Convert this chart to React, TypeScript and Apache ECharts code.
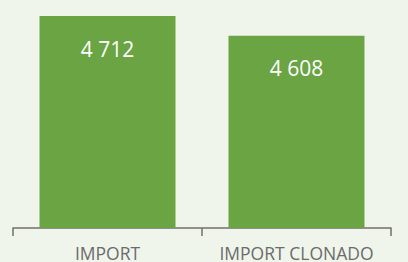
import React, { useEffect, useRef } from "react";
import * as echarts from "echarts";

const categories = ["IMPORT", "IMPORT CLONADO"];
const values = [4712, 4608];

export default function App() {
  const ref = useRef<HTMLDivElement>(null);
  useEffect(() => {
    document.body.style.margin = "0";
    const chart = echarts.init(ref.current!, null, { renderer: "svg" });
    chart.setOption({
      animation: false,
      backgroundColor: "#f0f5eb",
      grid: { left: 13, right: 17, top: 16, bottom: 34 },
      xAxis: {
        type: "category",
        data: categories,
        axisLine: { lineStyle: { color: "#707070", width: 1.5 } },
        axisTick: { show: true, length: 8, lineStyle: { color: "#707070", width: 1.5 } },
        axisLabel: {
          interval: 0,
          hideOverlap: false,
          color: "#6b6b6b",
          fontFamily: "Open Sans",
          fontSize: 17.5,
          margin: 16,
        },
      },
      yAxis: {
        type: "value",
        min: 3600,
        max: 4712,
        show: false,
        splitLine: { show: false },
      },
      series: [
        {
          type: "bar",
          data: values,
          barWidth: 136,
          itemStyle: { color: "#6aa443" },
          label: {
            show: true,
            position: "insideTop",
            distance: 22,
            color: "#ffffff",
            fontFamily: "Open Sans",
            fontSize: 21,
            formatter: (p: any) => String(p.value).replace(/\B(?=(\d{3})+(?!\d))/g, " "),
          },
        },
      ],
    });
    return () => chart.dispose();
  }, []);
  return <div ref={ref} style={{ width: 408, height: 262 }} />;
}
